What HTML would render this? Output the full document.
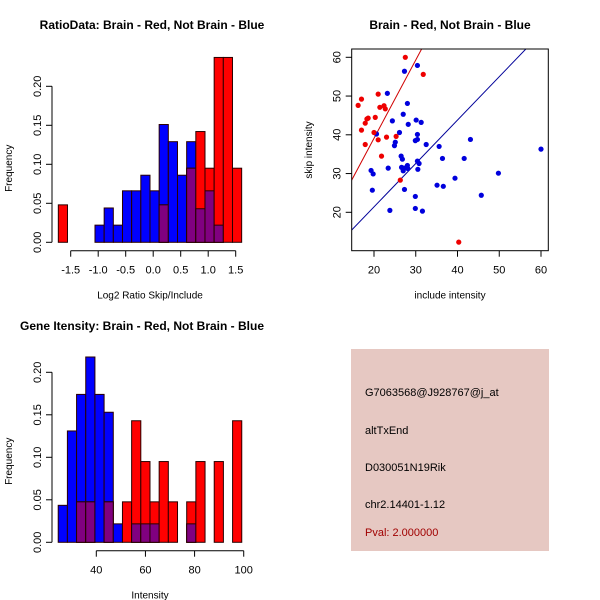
<!DOCTYPE html>
<html><head><meta charset="utf-8"><style>
html,body{margin:0;padding:0;background:#fff}
svg{display:block;font-family:"Liberation Sans",sans-serif}
</style></head><body>
<svg id="svg" width="600" height="600" viewBox="0 0 600 600" xmlns="http://www.w3.org/2000/svg">
<rect width="600" height="600" fill="#fff"/>
<text x="152" y="29" font-size="12" font-weight="bold" text-anchor="middle">RatioData: Brain - Red, Not Brain - Blue</text>
<text x="450" y="29" font-size="12" font-weight="bold" text-anchor="middle">Brain - Red, Not Brain - Blue</text>
<text x="142" y="330" font-size="12" font-weight="bold" text-anchor="middle">Gene Itensity: Brain - Red, Not Brain - Blue</text>
<g id="g1"></g>
<g id="g2"></g>
<g id="g3"></g>
<g>
<rect x="351" y="349" width="198" height="202" fill="#e6c8c2"/>
<g font-size="11">
<text x="365" y="396">G7063568@J928767@j_at</text>
<text x="365" y="434">altTxEnd</text>
<text x="365" y="471">D030051N19Rik</text>
<text x="365" y="508">chr2.14401-1.12</text>
<text x="365" y="536" fill="#a00000">Pval: 2.000000</text>
</g></g>
</svg>
<script>
// Ratio histogram data
const ratioBinStart = -1.725;
const ratioBinWidth = 1/6;
const ratioBlue = [0,0,0,0,0.022,0.044,0.022,0.066,0.066,0.086,0.066,0.151,0.129,0.086,0.129,0.043,0.066,0.022,0,0];
const ratioRed  = [0.048,0,0,0,0,0,0,0,0,0,0,0.048,0,0,0.095,0.142,0.095,0.237,0.237,0.095];
const ratioXTicks = [-1.5,-1.0,-0.5,0.0,0.5,1.0,1.5];
const ratioXLabels = ["-1.5","-1.0","-0.5","0.0","0.5","1.0","1.5"];
const ratioYTicks = [0,0.05,0.10,0.15,0.20];
const ratioYLabels = ["0.00","0.05","0.10","0.15","0.20"];
// Intensity histogram data
const intBinStart = 24.5;
const intBinWidth = 3.735;
const intBlue = [0.0435,0.131,0.174,0.218,0.174,0.153,0.0217,0,0.0217,0.0217,0.0217,0,0,0,0.0217,0,0,0,0,0];
const intRed  = [0,0,0.0476,0.0476,0,0.0476,0,0.0476,0.143,0.095,0.0476,0.095,0.0476,0,0.0476,0.095,0,0.095,0,0.143];
const intXTicks = [40,60,80,100];
const intXLabels = ["40","60","80","100"];
const intYTicks = [0,0.05,0.10,0.15,0.20];
const intYLabels = ["0.00","0.05","0.10","0.15","0.20"];
// Scatter data
const redInclude = [27.5,31.8,16.2,17.0,21.0,21.4,22.4,22.7,20.3,18.3,18.6,17.9,17.0,20.0,21.0,23.0,25.3,17.9,21.8,26.3,40.3];
const redSkip    = [60.0,55.6,47.6,49.2,50.5,47.1,47.5,46.7,44.5,44.1,44.3,43.0,41.2,40.6,38.7,39.4,39.6,37.5,34.5,28.3,12.3];
const blueInclude = [30.4,27.3,23.2,28.0,27.0,30.1,31.3,24.4,28.2,26.1,20.6,30.4,30.4,29.9,43.1,25.1,24.9,32.5,35.6,26.5,26.8,36.4,41.6,60.0,30.4,30.8,28.0,26.6,27.2,28.1,27.0,23.4,30.5,19.3,19.8,49.8,39.4,35.1,36.6,27.3,19.6,29.9,45.7,29.9,23.8,31.6];
const blueSkip    = [57.9,56.4,50.7,48.1,45.3,43.8,43.2,43.6,42.7,40.6,40.2,40.1,38.8,38.5,38.8,38.1,37.2,37.5,37.0,34.5,33.7,33.9,33.9,36.3,33.2,32.6,32.1,31.6,31.4,31.3,30.7,31.4,31.1,30.8,29.9,30.1,28.8,27.0,26.7,25.9,25.7,24.1,24.4,21.0,20.5,20.3];
const redFit = [2.02,-1.3];
const blueFit = [1.12,-1.0];
const scXTicks = [20,30,40,50,60];
const scYTicks = [20,30,40,50,60];

const NS="http://www.w3.org/2000/svg";
function mk(parent,tag,attrs,text){const e=document.createElementNS(NS,tag);for(const k in attrs)e.setAttribute(k,attrs[k]);if(text!==undefined)e.textContent=text;parent.appendChild(e);return e;}

function hist(g,o){
  const sx=v=>o.x0+(v-o.xv0)*o.xs, sy=v=>o.y0-v*o.ys;
  const n=o.blue.length;
  for(let i=0;i<n;i++){
    const a=o.start+i*o.w, b=a+o.w;
    const x=sx(a), w=sx(b)-sx(a);
    const draw=(v,fill,nm)=>{ if(v<=0)return; const r=mk(g,'rect',{x:x,y:sy(v),width:w,height:sy(0)-sy(v),fill:fill,stroke:'#2a0000','stroke-width':1});
      
       };
    draw(o.blue[i],'#0000ff','bar-blue-'+i);
    draw(o.red[i],'#ff0000','bar-red-'+i);
    draw(Math.min(o.blue[i],o.red[i]),'#800080','bar-overlap-'+i);
  }
  // y axis
  const ya=mk(g,'line',{x1:o.yaxX,x2:o.yaxX,y1:sy(o.yt[0]),y2:sy(o.yt[o.yt.length-1]),stroke:'#000'});
  
  
  o.yt.forEach((t,i)=>{mk(g,'line',{x1:o.yaxX-6,x2:o.yaxX,y1:sy(t),y2:sy(t),stroke:'#000'});
    const tx=mk(g,'text',{x:0,y:0,'font-size':11,'text-anchor':'middle',transform:`translate(${o.yaxX-11},${sy(t)}) rotate(-90)`},o.yl[i]);
    
    });
  const xa=mk(g,'line',{x1:sx(o.xt[0]),x2:sx(o.xt[o.xt.length-1]),y1:o.xaxY,y2:o.xaxY,stroke:'#000'});
  
  
  o.xt.forEach((t,i)=>{mk(g,'line',{x1:sx(t),x2:sx(t),y1:o.xaxY,y2:o.xaxY+6,stroke:'#000'});
    const tx=mk(g,'text',{x:sx(t),y:o.xaxY+23,'font-size':11,'text-anchor':'middle'},o.xl[i]);
    
    });
  const yt=mk(g,'text',{x:0,y:0,'font-size':10,'text-anchor':'middle',transform:`translate(12,${(sy(0)+sy(0.2))/2+4}) rotate(-90)`},'Frequency');
  
  
  const xt=mk(g,'text',{x:o.xtitleX,y:o.xaxY+48,'font-size':10,'text-anchor':'middle'},o.xtitle);
  
  
}
hist(document.getElementById('g1'),{blue:ratioBlue,red:ratioRed,start:ratioBinStart,w:ratioBinWidth,x0:153.2,xv0:0,xs:55,y0:242.3,ys:39/0.05,yaxX:52,xaxY:250.7,xt:ratioXTicks,xl:ratioXLabels,yt:ratioYTicks,yl:ratioYLabels,xtitle:'Log2 Ratio Skip/Include',xtitleX:150});
hist(document.getElementById('g3'),{blue:intBlue,red:intRed,start:intBinStart,w:intBinWidth,x0:96.3,xv0:40,xs:2.457,y0:542.3,ys:42.5/0.05,yaxX:52,xaxY:550.7,xt:intXTicks,xl:intXLabels,yt:intYTicks,yl:intYLabels,xtitle:'Intensity',xtitleX:150});

// scatter
(function(){
  const g=document.getElementById('g2');
  const L=351.7,R=548.3,T=49,B=250.7;
  const sx=v=>374+(v-20)*4.175, sy=v=>212.3-(v-20)*3.875;
  const cp=mk(g,'clipPath',{id:'scclip'}); mk(cp,'rect',{x:L,y:T,width:R-L,height:B-T});
  const xmin=(L-374)/4.175+20, xmax=(R-374)/4.175+20;
  [[redFit,'#d00000','red-fit-line'],[blueFit,'#000099','blue-fit-line']].forEach(([f,c,nm])=>{
    const l=mk(g,'line',{x1:sx(xmin),y1:sy(f[0]*xmin+f[1]),x2:sx(xmax),y2:sy(f[0]*xmax+f[1]),stroke:c,'stroke-width':1,'clip-path':'url(#scclip)'});
    
    
  });
  blueInclude.forEach((v,i)=>{const c=mk(g,'circle',{cx:sx(v),cy:sy(blueSkip[i]),r:2.6,fill:'#0000dd'});
    
    });
  redInclude.forEach((v,i)=>{const c=mk(g,'circle',{cx:sx(v),cy:sy(redSkip[i]),r:2.6,fill:'#ee0000'});
    
    });
  const box=mk(g,'rect',{x:L,y:T,width:R-L,height:B-T,fill:'none',stroke:'#000'});
  
  
  scXTicks.forEach(t=>{mk(g,'line',{x1:sx(t),x2:sx(t),y1:B,y2:B+6,stroke:'#000'});
    const tx=mk(g,'text',{x:sx(t),y:B+23,'font-size':11,'text-anchor':'middle'},String(t));
    
    });
  scYTicks.forEach(t=>{mk(g,'line',{x1:L-6,x2:L,y1:sy(t),y2:sy(t),stroke:'#000'});
    const tx=mk(g,'text',{x:0,y:0,'font-size':11,'text-anchor':'middle',transform:`translate(${L-11},${sy(t)}) rotate(-90)`},String(t));
    
    });
  const xt=mk(g,'text',{x:450,y:B+48,'font-size':10,'text-anchor':'middle'},'include intensity');
  
  
  const yt=mk(g,'text',{x:0,y:0,'font-size':10,'text-anchor':'middle',transform:`translate(312,150) rotate(-90)`},'skip intensity');
  
  
})();
</script>
</body></html>
